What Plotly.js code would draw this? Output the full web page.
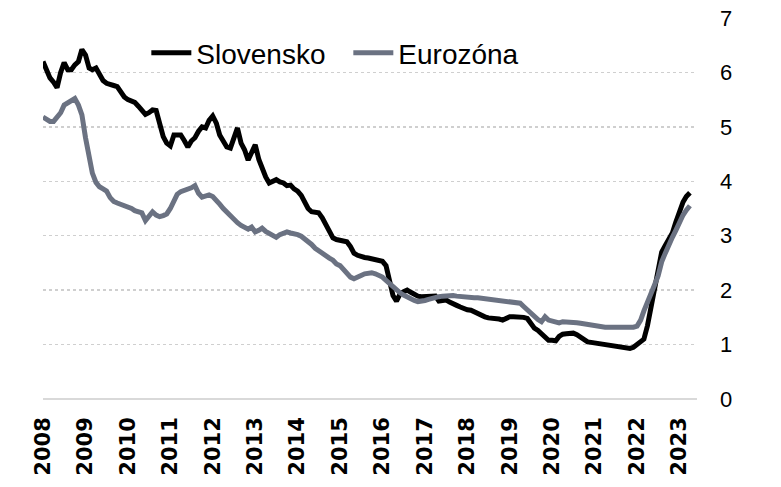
<!DOCTYPE html>
<html>
<head>
<meta charset="utf-8">
<script src="https://cdn.plot.ly/plotly-3.0.1.min.js"></script>
<style>html,body{margin:0;padding:0;background:#fff;}#chart{width:781px;height:487px;}</style>
</head>
<body>
<div id="chart"></div>
<script>
// Monthly data, Jan 2008 - Apr 2023
const startYear = 2008;
const seriesNames = ["Slovensko", "Eurozóna"];
const slovensko = [
  6.20, 6.05, 5.90, 5.82, 5.72, 6.00, 6.18, 6.05, 6.05, 6.14, 6.20, 6.42,
  6.32, 6.08, 6.05, 6.08, 5.98, 5.85, 5.80, 5.77, 5.76, 5.74, 5.62, 5.55,
  5.50, 5.47, 5.45, 5.38, 5.32, 5.23, 5.26, 5.31, 5.30, 5.05, 4.82, 4.70,
  4.65, 4.85, 4.85, 4.85, 4.75, 4.63, 4.74, 4.80, 4.92, 5.00, 4.98, 5.12,
  5.20, 5.07, 4.85, 4.72, 4.63, 4.61, 4.78, 4.98, 4.70, 4.58, 4.39, 4.55,
  4.67, 4.40, 4.22, 4.08, 3.97, 4.00, 4.03, 3.99, 3.97, 3.92, 3.93, 3.86,
  3.82, 3.74, 3.62, 3.50, 3.44, 3.44, 3.42, 3.33, 3.22, 3.08, 2.96, 2.93,
  2.92, 2.91, 2.89, 2.80, 2.68, 2.64, 2.61, 2.60, 2.59, 2.58, 2.56, 2.55,
  2.53, 2.45, 2.15, 1.90, 1.80, 1.93, 1.97, 2.00, 1.96, 1.92, 1.89, 1.88,
  1.88, 1.88, 1.90, 1.89, 1.80, 1.80, 1.82, 1.78, 1.74, 1.72, 1.69, 1.66,
  1.64, 1.63, 1.60, 1.56, 1.54, 1.51, 1.49, 1.49, 1.48, 1.47, 1.45, 1.48,
  1.51, 1.51, 1.51, 1.51, 1.50, 1.48, 1.40, 1.30, 1.26, 1.20, 1.12, 1.08,
  1.08, 1.07, 1.15, 1.19, 1.20, 1.20, 1.21, 1.18, 1.14, 1.08, 1.05, 1.04,
  1.03, 1.02, 1.01, 1.00, 0.99, 0.97, 0.96, 0.96, 0.95, 0.94, 0.93, 0.95,
  1.00, 1.04, 1.10, 1.35, 1.68, 2.05, 2.37, 2.70, 2.82, 2.95, 3.05, 3.25,
  3.45, 3.62, 3.72, 3.79
];
const eurozona = [
  5.18, 5.13, 5.10, 5.10, 5.18, 5.26, 5.40, 5.45, 5.50, 5.52, 5.40, 5.22,
  4.80, 4.42, 4.15, 3.98, 3.90, 3.86, 3.82, 3.70, 3.63, 3.60, 3.58, 3.56,
  3.54, 3.50, 3.46, 3.44, 3.42, 3.28, 3.36, 3.44, 3.38, 3.35, 3.37, 3.40,
  3.50, 3.65, 3.76, 3.81, 3.83, 3.84, 3.88, 3.92, 3.78, 3.71, 3.74, 3.75,
  3.72, 3.66, 3.58, 3.50, 3.43, 3.36, 3.30, 3.24, 3.19, 3.15, 3.12, 3.16,
  3.07, 3.10, 3.14, 3.08, 3.04, 2.99, 2.97, 3.02, 3.05, 3.07, 3.05, 3.04,
  3.02, 2.99, 2.95, 2.90, 2.84, 2.77, 2.72, 2.68, 2.64, 2.59, 2.55, 2.48,
  2.45, 2.38, 2.30, 2.24, 2.21, 2.23, 2.27, 2.30, 2.32, 2.32, 2.30, 2.27,
  2.24, 2.18, 2.12, 2.06, 2.00, 1.95, 1.91, 1.87, 1.84, 1.81, 1.79, 1.79,
  1.81, 1.83, 1.85, 1.87, 1.88, 1.89, 1.90, 1.91, 1.90, 1.89, 1.88, 1.88,
  1.87, 1.87, 1.86, 1.86, 1.85, 1.84, 1.83, 1.82, 1.81, 1.80, 1.80, 1.79,
  1.79, 1.78, 1.77, 1.76, 1.70, 1.64, 1.56, 1.50, 1.46, 1.42, 1.51, 1.45,
  1.43, 1.42, 1.40, 1.42, 1.42, 1.42, 1.42, 1.40, 1.39, 1.38, 1.36, 1.34,
  1.33, 1.33, 1.32, 1.32, 1.32, 1.32, 1.31, 1.31, 1.32, 1.33, 1.32, 1.32,
  1.34, 1.45, 1.62, 1.80, 1.95, 2.10, 2.26, 2.52, 2.68, 2.84, 2.97, 3.10,
  3.26, 3.38, 3.47, 3.55
];
const yTicks = [0, 1, 2, 3, 4, 5, 6, 7];

function monthDates(n) {
  const out = [];
  for (let i = 0; i < n; i++) {
    const y = startYear + Math.floor(i / 12);
    const m = (i % 12) + 1;
    out.push(y + "-" + String(m).padStart(2, "0") + "-01");
  }
  return out;
}
const dates = monthDates(slovensko.length);

const traces = [
  {x: dates, y: slovensko, name: seriesNames[0], type: "scatter", mode: "lines",
   line: {color: "#000000", width: 5}},
  {x: dates, y: eurozona, name: seriesNames[1], type: "scatter", mode: "lines",
   line: {color: "#6b7282", width: 5}}
];

const layout = {
  width: 781, height: 487,
  margin: {l: 43, r: 84, t: 18, b: 88, pad: 0},
  paper_bgcolor: "#ffffff", plot_bgcolor: "#ffffff",
  font: {family: "Arial, 'Liberation Sans', sans-serif", color: "#000"},
  showlegend: true,
  legend: {orientation: "h", x: 0.158, y: 0.908, xanchor: "left", yanchor: "middle",
           font: {size: 28, color: "#000"}, bgcolor: "rgba(0,0,0,0)", itemwidth: 40,
           entrywidth: 147, entrywidthmode: "pixels", tracegroupgap: 0},
  xaxis: {type: "date", range: ["2008-01-01", "2023-06-01"],
          tick0: "2008-01-01", dtick: "M12", tickformat: "%Y", tickangle: -90,
          showgrid: false, showline: false, zeroline: false, ticks: "",
          ticklabelstandoff: 13,
          tickfont: {family: "'DejaVu Sans', Arial, sans-serif", size: 21, weight: "bold", color: "#000"}},
  yaxis: {side: "right", range: [0, 7], tickvals: yTicks, ticktext: yTicks.map(String),
          showgrid: true, gridcolor: "#cfcfcf", gridwidth: 1.5, griddash: "dot",
          zeroline: true, zerolinecolor: "#d9d9d9", zerolinewidth: 2,
          showline: false, ticks: "", ticklabelstandoff: 22,
          tickfont: {size: 22, color: "#000"}}
};

Plotly.newPlot("chart", traces, layout, {displayModeBar: false, staticPlot: true});
</script>
</body>
</html>
